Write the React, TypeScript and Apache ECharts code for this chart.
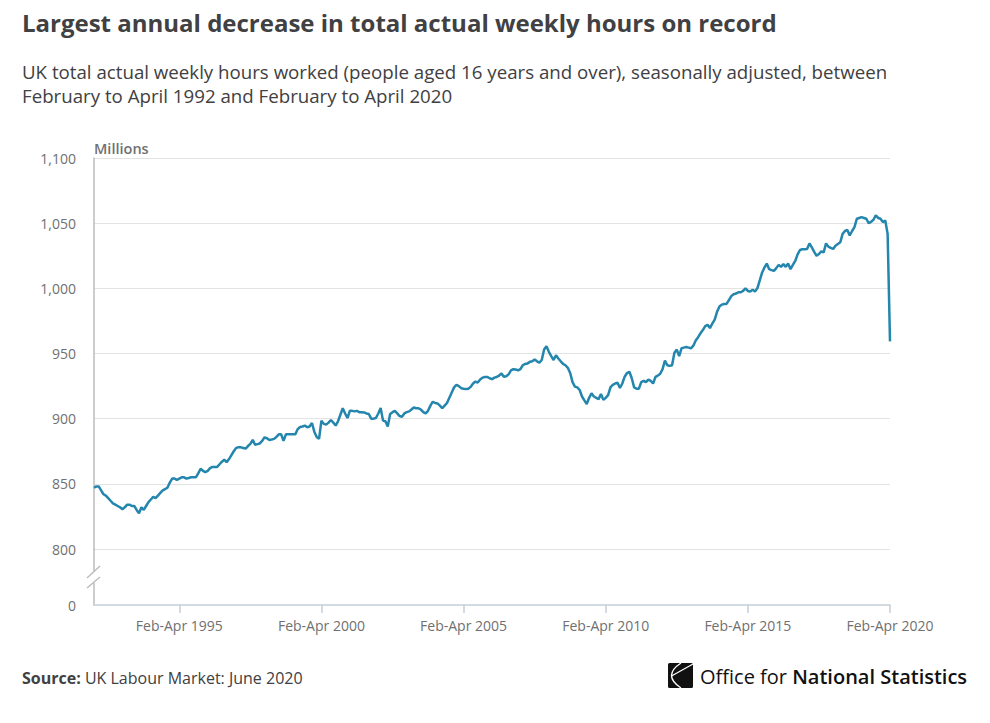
import React, { useEffect, useRef } from "react";
import * as echarts from "echarts";

const PERIODS = ["Feb-Apr", "Mar-May", "Apr-Jun", "May-Jul", "Jun-Aug", "Jul-Sep", "Aug-Oct", "Sep-Nov", "Oct-Dec", "Nov-Jan", "Dec-Feb", "Jan-Mar"];
const FIRST_YEAR = 1992;

// total actual weekly hours, millions, one value per rolling 3-month period
const HOURS = [
	847, 848, 848, 845, 842, 841, 839, 837, 835, 834, 833, 832,
	830.5, 832, 834, 834, 833, 833, 830, 827.5, 832, 830, 833, 836,
	838, 840, 839, 841, 843, 845, 846, 847, 851, 854, 854, 853,
	854, 855, 855, 854, 854.5, 855, 855, 855, 858, 861.6, 860, 859,
	860, 862, 863, 863, 863, 865, 867, 868.5, 866.6, 869, 872, 875,
	877.6, 878, 878, 877.5, 877, 879, 880.7, 883.7, 880, 880.5, 881, 883,
	885.7, 885, 883.7, 884, 884.5, 886, 888, 888, 883, 888, 888, 888,
	888, 888, 892, 893.6, 894, 894.7, 893.4, 894, 896.7, 890, 886, 884.5,
	898.5, 896, 895.4, 897, 899, 897, 894.7, 898, 903, 908, 904, 900.5,
	906, 906, 905.6, 906, 905, 905, 904.8, 904, 903.6, 900, 900, 900.5,
	904, 908.2, 898.5, 898, 894, 903.6, 905, 906, 904, 902, 901.5, 904,
	905, 905.6, 907, 908.6, 908, 908, 907, 905, 904, 906, 910, 913,
	912, 911.7, 910, 908, 910, 912, 916, 920, 924, 926, 925, 923.4,
	923, 922.7, 923, 924.4, 927, 928.5, 927.7, 930, 931.5, 932, 932, 931,
	930.3, 931.5, 932, 933, 934.7, 932.2, 932.5, 934, 937, 938, 937.8, 937,
	938, 941, 942, 942.4, 943.6, 944, 945.4, 944, 943, 945, 953, 955.6,
	951.3, 948, 945, 948.7, 946.2, 944, 942, 941, 939, 935, 928, 924.6,
	924, 922, 917, 914, 911.3, 916, 919.5, 917, 916, 915, 919, 914.4,
	916, 918, 924, 926, 927, 927.6, 923.5, 927, 932.2, 935, 936, 931,
	924, 923, 923, 928, 929, 928, 930, 929, 927, 932, 933, 934.5,
	938, 944.5, 941, 940.5, 941, 950.5, 953, 948, 954, 954.5, 955, 954.5,
	954, 956, 960, 962.5, 965.5, 968, 971, 972, 969.5, 973, 976, 982,
	986, 987.5, 988, 988, 991, 994, 995.5, 996, 997, 997, 998, 1000,
	998, 997.5, 999, 997.5, 1000, 1006, 1012, 1016, 1019, 1014.7, 1014, 1013.4,
	1015.5, 1018, 1016.5, 1018.6, 1016.5, 1019, 1014.7, 1018, 1021, 1026, 1029.4, 1030,
	1030, 1030.2, 1034.5, 1031.4, 1028, 1025, 1026.3, 1028.4, 1027.6, 1034.5, 1032, 1031,
	1030.2, 1032.7, 1034, 1035.3, 1041.8, 1044, 1044.8, 1040.5, 1044, 1047, 1053.4, 1054,
	1054.6, 1054, 1053.4, 1050, 1051, 1052.6, 1056, 1054, 1053.4, 1050.8, 1052, 1041.8,
	959.3,
];

const TICK_LABELS = ["Feb-Apr 1995", "Feb-Apr 2000", "Feb-Apr 2005", "Feb-Apr 2010", "Feb-Apr 2015", "Feb-Apr 2020"];

// Nov-Jan, Dec-Feb and Jan-Mar take the year they end in
const categories = HOURS.map((_, i) => {
	const p = i % 12;
	const year = FIRST_YEAR + Math.floor(i / 12) + (p >= 9 ? 1 : 0);
	return `${PERIODS[p]} ${year}`;
});

const FONT = "'Open Sans', 'Noto Sans', sans-serif";
const DARK = "#414042";
const GREY = "#707071";

const showTick = (_i: number, value: string) => TICK_LABELS.includes(value);

export default function App() {
	const chartRef = useRef<HTMLDivElement>(null);

	useEffect(() => {
		if (!chartRef.current) return;
		const chart = echarts.init(chartRef.current, null, { renderer: "svg" });

		const L = 94;
		const R = 100;

		chart.setOption({
			animation: false,
			textStyle: { fontFamily: FONT },
			grid: [
				{ left: L, right: R, top: 158, height: 391 },
				{ left: L, right: R, top: 549, height: 56 },
			],
			xAxis: [
				{
					type: "category",
					gridIndex: 0,
					data: categories,
					boundaryGap: false,
					show: false,
				},
				{
					type: "category",
					gridIndex: 1,
					data: categories,
					boundaryGap: false,
					axisLine: { lineStyle: { color: "#c5ced9", width: 1.5 } },
					axisTick: { interval: showTick, length: 8, lineStyle: { color: "#c5ced9", width: 1.5 } },
					axisLabel: { interval: showTick, color: GREY, fontSize: 14, margin: 13, fontFamily: FONT },
					splitLine: { show: false },
				},
			],
			yAxis: [
				{
					type: "value",
					gridIndex: 0,
					min: 800,
					max: 1100,
					interval: 50,
					name: "Millions",
					nameLocation: "end",
					nameGap: 2,
					nameTextStyle: { color: GREY, fontSize: 14.5, fontWeight: 600, align: "left", fontFamily: FONT },
					axisLine: { show: true, lineStyle: { color: "#bdbdbd", width: 1.5 } },
					axisTick: { show: false },
					axisLabel: {
						color: GREY,
						fontSize: 14,
						margin: 18,
						fontFamily: FONT,
						formatter: (v: number) => v.toLocaleString("en-GB"),
					},
					splitLine: { lineStyle: { color: "#e3e3e3", width: 1 } },
				},
				{
					type: "value",
					gridIndex: 1,
					min: 0,
					max: 1,
					interval: 1,
					axisLine: { show: true, lineStyle: { color: "#bdbdbd", width: 1.5 } },
					axisTick: { show: false },
					axisLabel: {
						color: GREY,
						fontSize: 14,
						margin: 18,
						fontFamily: FONT,
						formatter: (v: number) => (v === 0 ? "0" : ""),
					},
					splitLine: { show: false },
				},
			],
			series: [
				{
					type: "line",
					xAxisIndex: 0,
					yAxisIndex: 0,
					data: HOURS,
					showSymbol: false,
					symbol: "none",
					lineStyle: { color: "#2486ad", width: 2.5 },
					z: 5,
				},
			],
			graphic: [
				{
					type: "text",
					x: 22,
					y: 22,
					style: {
						text: "Largest annual decrease in total actual weekly hours on record",
						font: `bold 24px ${FONT}`,
						fill: DARK,
						textVerticalAlign: "middle",
					},
				},
				{
					type: "text",
					x: 22,
					y: 59,
					style: {
						text: "UK total actual weekly hours worked (people aged 16 years and over), seasonally adjusted, between\nFebruary to April 1992 and February to April 2020",
						font: `18.7px ${FONT}`,
						lineHeight: 24,
						fill: DARK,
						textVerticalAlign: "top",
					},
				},
				// axis break
				{ type: "rect", shape: { x: 88, y: 571, width: 12, height: 12 }, style: { fill: "#fff" }, z: 10 },
				{ type: "line", shape: { x1: 87, y1: 578, x2: 100, y2: 566 }, style: { stroke: "#bdbdbd", lineWidth: 1.5 }, z: 11 },
				{ type: "line", shape: { x1: 87, y1: 588, x2: 100, y2: 577 }, style: { stroke: "#bdbdbd", lineWidth: 1.5 }, z: 11 },
				{
					type: "text",
					x: 22,
					y: 678,
					style: {
						text: "{b|Source:} UK Labour Market: June 2020",
						font: `16px ${FONT}`,
						fill: DARK,
						textVerticalAlign: "middle",
						rich: { b: { fontWeight: "bold", fontSize: 16, fill: DARK, fontFamily: FONT } },
					},
				},
				// ONS logo
				{
					type: "group",
					x: 668,
					y: 663,
					children: [
						{ type: "rect", shape: { x: 0, y: 0, width: 25, height: 25, r: 1.5 }, style: { fill: "#111" } },
						{
							type: "bezierCurve",
							shape: { x1: 13, y1: 0, x2: 13, y2: 25, cpx1: -6, cpy1: 12.5 },
							style: { stroke: "#fff", lineWidth: 1.4, fill: "none" },
						},
						{ type: "line", shape: { x1: 3.5, y1: 13, x2: 25, y2: 1 }, style: { stroke: "#fff", lineWidth: 1.2 } },
					],
				},
				{
					type: "text",
					x: 700,
					y: 676,
					style: {
						text: "Office for {b|National Statistics}",
						font: `20px ${FONT}`,
						fill: "#111",
						textVerticalAlign: "middle",
						rich: { b: { fontWeight: 600, fontSize: 20, fill: "#111", fontFamily: FONT } },
					},
				},
			],
		});

		return () => chart.dispose();
	}, []);

	return (
		<div
			ref={chartRef}
			style={{ position: "fixed", left: 0, top: 0, width: 990, height: 723, background: "#fff" }}
		/>
	);
}
